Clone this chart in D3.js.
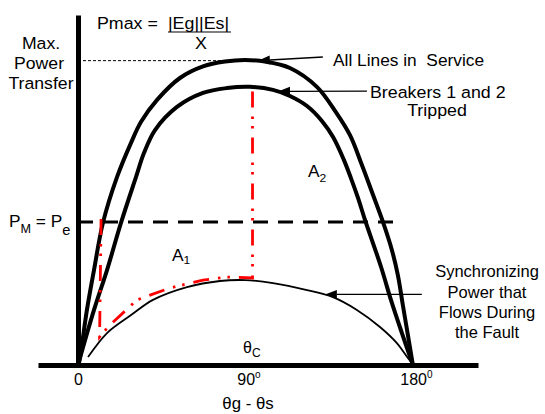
<!DOCTYPE html>
<html><head><meta charset="utf-8">
<script src="https://cdn.jsdelivr.net/npm/d3@7"></script>
<style>
html,body{margin:0;padding:0;background:#fff;}
svg{display:block;font-family:"Liberation Sans",Arial,sans-serif;}
text{white-space:pre;}
</style></head><body>
<svg id="chart" width="545" height="414"></svg>
<script>
// ---- data (angle in degrees, power in per-unit of Pmax) ----
const xTicks = [0, 90, 180];
const xTickMain = ["0", "90", "180"];
const xTickSup = ["", "o", "0"];

const allLinesAngle = [0, 0.5, 4.8, 8.6, 13.4, 21.0, 28.5, 33.9, 42.5, 54.8, 67.2, 79.0, 89.7, 100.5, 113.9, 128.4, 138.6, 146.2, 152.6, 158.5, 163.9, 168.7, 171.9, 174.6, 177.3, 180];
const allLinesPower = [0, 0.007, 0.181, 0.312, 0.467, 0.618, 0.730, 0.799, 0.871, 0.943, 0.981, 0.997, 1.002, 0.997, 0.976, 0.914, 0.831, 0.755, 0.657, 0.560, 0.470, 0.378, 0.296, 0.197, 0.099, 0];

const trippedAngle = [0, 8.6, 15.6, 23.1, 31.2, 35.5, 41.4, 53.2, 67.2, 80.1, 92.4, 104.8, 113.9, 123.1, 131.1, 137.1, 142.9, 146.7, 150.5, 154.3, 162.9, 168.2, 174.1, 180];
const trippedPower = [0, 0.181, 0.312, 0.467, 0.618, 0.697, 0.772, 0.848, 0.894, 0.910, 0.914, 0.904, 0.884, 0.851, 0.802, 0.749, 0.674, 0.614, 0.549, 0.476, 0.322, 0.214, 0.105, 0];

const faultAngle = [5.4, 15.6, 28.5, 40.3, 58.6, 76.3, 89.7, 104.8, 123.1, 137.0, 149.9, 162.3, 171.4, 177.3, 180];
const faultPower = [0.026, 0.105, 0.164, 0.214, 0.256, 0.276, 0.279, 0.269, 0.246, 0.223, 0.181, 0.125, 0.072, 0.023, 0.003];

const swingAngle = [12.4, 11.6, 16.1, 31.7, 49.4, 67.2, 80.1, 93.8, 93.8];
const swingPower = [0.480, 0.092, 0.125, 0.214, 0.253, 0.279, 0.289, 0.286, 0.910];

const mechPower = 0.47;      // P_M = P_e
const mechEndAngle = 173.5;
const pmaxLevel = 1.0;
const pmaxLineEnd = 82;

// annotation arrows: [tipAngle, tipPower, tailAngle, tailPower]
const arrowAll = [96.7, 1.0, 131.6, 1.012];
const arrowTrip = [107.5, 0.899, 155.3, 0.900];
const arrowFault = [132.7, 0.232, 184.8, 0.232];

// ---- drawing ----
const svg = d3.select("#chart");
const x = d3.scaleLinear().domain([-21.5, 215]).range([38, 478]);
const y = d3.scaleLinear().domain([0, 1.15]).range([365, 15]);

const zip = (a, b) => a.map((v, i) => [v, b[i]]);
const line = d3.line().x(d => x(d[0])).y(d => y(d[1]));

// axes
const gx = svg.append("g").attr("transform", `translate(0,${y(0)})`)
  .call(d3.axisBottom(x).tickValues(xTicks).tickSize(0).tickSizeOuter(0).tickPadding(9).tickFormat(""));
gx.select(".domain").attr("stroke", "#000").attr("stroke-width", 5);
gx.selectAll(".tick text").each(function(d, i) {
  const t = d3.select(this).attr("font-size", 16).attr("font-family", '"Liberation Sans",Arial,sans-serif').attr("fill", "#000");
  t.append("tspan").text(xTickMain[i]);
  if (xTickSup[i]) t.append("tspan").attr("font-size", 10).attr("dy", "-0.75em").text(xTickSup[i]);
});
gx.selectAll(".tick text").attr("transform", (d, i) => i === 0 ? "" : "translate(3,0)");

const gy = svg.append("g").attr("transform", `translate(${x(0)},0)`)
  .call(d3.axisLeft(y).tickValues([]).tickSizeOuter(0));
gy.select(".domain").attr("stroke", "#000").attr("stroke-width", 5);

// Pmax dotted guide
svg.append("line").attr("x1", x(0)).attr("x2", x(pmaxLineEnd))
  .attr("y1", y(pmaxLevel)).attr("y2", y(pmaxLevel))
  .attr("stroke", "#000").attr("stroke-width", 1).attr("stroke-dasharray", "3,2");

// P_M dashed line
svg.append("line").attr("x1", x(0)).attr("x2", x(mechEndAngle))
  .attr("y1", y(mechPower)).attr("y2", y(mechPower))
  .attr("stroke", "#000").attr("stroke-width", 3).attr("stroke-dasharray", "15,10");

const smooth = d3.line().x(d => x(d[0])).y(d => y(d[1])).curve(d3.curveCatmullRom.alpha(0.5));

svg.append("path").attr("d", smooth(zip(allLinesAngle, allLinesPower)))
  .attr("fill", "none").attr("stroke", "#000").attr("stroke-width", 4).attr("stroke-linejoin", "round");
svg.append("path").attr("d", smooth(zip(trippedAngle, trippedPower)))
  .attr("fill", "none").attr("stroke", "#000").attr("stroke-width", 4).attr("stroke-linejoin", "round");
svg.append("path").attr("d", smooth(zip(faultAngle, faultPower)))
  .attr("fill", "none").attr("stroke", "#000").attr("stroke-width", 1.8);

svg.append("path").attr("d", line(zip(swingAngle, swingPower)))
  .attr("fill", "none").attr("stroke", "#ff0000").attr("stroke-width", 2.8)
  .attr("stroke-dasharray", "16,9,2.5,7,2.5,9");

// arrows
function arrow(a) {
  const tx = x(a[0]), ty = y(a[1]), sx = x(a[2]), sy = y(a[3]);
  const ang = Math.atan2(sy - ty, sx - tx);
  const L = 12, W = 4.5;
  const bx = tx + L * Math.cos(ang), by = ty + L * Math.sin(ang);
  svg.append("line").attr("x1", sx).attr("y1", sy).attr("x2", bx).attr("y2", by)
    .attr("stroke", "#000").attr("stroke-width", 1.3);
  const px = -Math.sin(ang) * W, py = Math.cos(ang) * W;
  svg.append("path").attr("d", `M${tx},${ty}L${bx + px},${by + py}L${bx - px},${by - py}Z`).attr("fill", "#000");
}
arrow(arrowAll); arrow(arrowTrip); arrow(arrowFault);

// text helper
function label(parts, px, py, anchor, size, sx) {
  const g = svg.append("g").attr("transform", `translate(${px},${py}) scale(${sx || 1},1)`);
  const t = g.append("text").attr("text-anchor", anchor || "start").attr("font-size", size || 16.5).attr("fill", "#000");
  parts.forEach(p => {
    if (typeof p === "string") t.append("tspan").text(p);
    else t.append("tspan").attr("font-size", p.size).attr("dy", p.dy).text(p.t);
  });
  return t;
}

label(["Max."], 41, 49, "middle", 16.5, 1.07);
label(["Power"], 39, 69, "middle", 16.5, 1.07);
label(["Transfer"], 41, 89, "middle", 16.5, 1.07);

label(["Pmax ="], 97, 29, "start", 16.5, 1.08);
label(["|Eg||Es|"], 168, 29, "start", 16.5, 1.08);
svg.append("line").attr("x1", 168).attr("x2", 231).attr("y1", 32).attr("y2", 32).attr("stroke", "#000").attr("stroke-width", 1.2);
label(["X"], 201, 49, "middle", 16.5, 1.08);

label(["All Lines in  Service"], 333, 65.5, "start", 16.5, 1.05);
label(["Breakers 1 and 2"], 370, 98, "start", 16.5, 1.08);
label(["Tripped"], 437, 116, "middle", 16.5, 1.08);

label(["P", {t: "M", size: 12, dy: 6}, {t: " = P", size: 16.5, dy: -6}, {t: "e", size: 14, dy: 8}], 9, 226.5, "start", 16.5, 1.05);

label(["A", {t: "1", size: 11.5, dy: 3}], 172, 261, "start", 16.5, 1.05);
label(["A", {t: "2", size: 11.5, dy: 5}], 308, 176.5, "start", 16.5, 1.05);
label(["θ", {t: "C", size: 12, dy: 4}], 243, 352.5, "start", 16, 1.0);

label(["Synchronizing"], 487, 277, "middle", 16.5, 1.0);
label(["Power that"], 487, 297.5, "middle", 16.5, 1.0);
label(["Flows During"], 487, 318, "middle", 16.5, 1.0);
label(["the Fault"], 487, 338, "middle", 16.5, 1.0);

label(["θg - θs"], 248, 409, "middle", 16, 1.05);
</script>
</body></html>
